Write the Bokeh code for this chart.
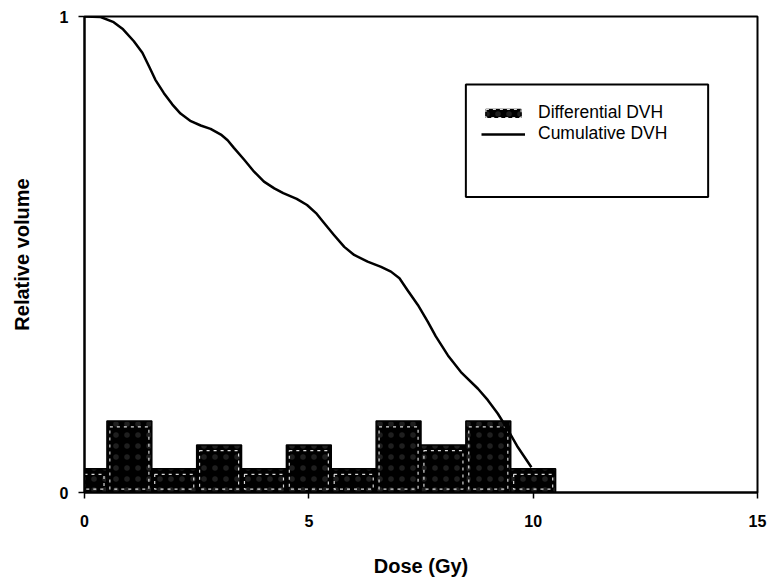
from bokeh.plotting import figure
from bokeh.models import Range1d, FixedTicker, Legend, LegendItem, BoxAnnotation
from bokeh.embed import file_html
from bokeh.resources import INLINE

# Differential DVH: relative volume per 1 Gy dose bin (bin centres in Gy)
bin_dose = [0, 1, 2, 3, 4, 5, 6, 7, 8, 9, 10]
diff_volume = [0.05, 0.15, 0.05, 0.10, 0.05, 0.10, 0.05, 0.15, 0.10, 0.15, 0.05]

# Cumulative DVH (smoothed curve)
cum_dose = [0.00, 0.36, 0.65, 0.86, 1.10, 1.29, 1.44, 1.58, 1.77, 1.96, 2.14,
            2.37, 2.59, 2.81, 3.04, 3.19, 3.33, 3.56, 3.78, 4.00, 4.23, 4.43,
            4.73, 4.96, 5.16, 5.34, 5.56, 5.79, 6.01, 6.31, 6.61, 6.83, 7.02,
            7.20, 7.43, 7.65, 7.83, 8.10, 8.39, 8.77, 8.99, 9.21, 9.44, 9.66,
            9.96]
cum_volume = [1.000, 0.999, 0.988, 0.973, 0.948, 0.924, 0.895, 0.867, 0.839,
              0.815, 0.796, 0.780, 0.771, 0.764, 0.752, 0.740, 0.724, 0.699,
              0.674, 0.653, 0.639, 0.629, 0.617, 0.604, 0.587, 0.566, 0.541,
              0.516, 0.499, 0.485, 0.474, 0.464, 0.450, 0.425, 0.394, 0.359,
              0.328, 0.288, 0.253, 0.218, 0.194, 0.166, 0.131, 0.095, 0.053]

x_ticks = [0, 5, 10, 15]
y_ticks = [0, 1]

FONT = "Liberation Sans"

p = figure(width=768, height=582, output_backend="svg", toolbar_location=None,
           x_range=Range1d(0, 15), y_range=Range1d(0, 1),
           min_border_left=84, min_border_right=11,
           min_border_top=16, min_border_bottom=90)

p.background_fill_color = "white"
p.border_fill_color = "white"
p.outline_line_color = "black"
p.outline_line_width = 2
p.xgrid.visible = False
p.ygrid.visible = False

# Histogram bars: black fill with faint speckle and a dashed white inner border
bars = p.vbar(x=bin_dose, top=diff_volume, width=1.0,
              fill_color="black", line_color="black", line_width=1.5,
              hatch_pattern="dot", hatch_color="white", hatch_alpha=0.12,
              hatch_scale=11, hatch_weight=1)
inset_top = [v - 0.012 for v in diff_volume]
inset = p.vbar(x=bin_dose, top=inset_top, bottom=0.007, width=0.87,
               fill_alpha=0, line_color="white", line_alpha=0.85,
               line_width=1.2, line_dash="3 4")

curve = p.line(cum_dose, cum_volume, line_color="black", line_width=2.5,
               line_join="round")

# Axes
for ax in (p.xaxis[0], p.yaxis[0]):
    ax.axis_line_width = 2
    ax.major_tick_in = 0
    ax.major_tick_out = 6
    ax.major_tick_line_width = 1.5
    ax.minor_tick_line_color = None
    ax.major_label_text_font = FONT
    ax.major_label_text_font_size = "16px"
    ax.major_label_text_font_style = "bold"
    ax.major_label_text_color = "black"
    ax.axis_label_text_font = FONT
    ax.axis_label_text_font_size = "20px"
    ax.axis_label_text_font_style = "bold"
    ax.axis_label_text_color = "black"

p.xaxis[0].ticker = FixedTicker(ticks=x_ticks)
p.yaxis[0].ticker = FixedTicker(ticks=y_ticks)
p.xaxis[0].axis_label = "Dose (Gy)"
p.yaxis[0].axis_label = "Relative volume"
p.xaxis[0].major_label_standoff = 16
p.xaxis[0].axis_label_standoff = 25
p.yaxis[0].major_label_standoff = 10
p.yaxis[0].axis_label_standoff = 24

# Legend frame and entries
legend_box = BoxAnnotation(left=8.5, right=13.9, top=0.857, bottom=0.621,
                           fill_alpha=0, line_color="black", line_alpha=1,
                           line_width=2)
p.add_layout(legend_box)

legend = Legend(items=[LegendItem(label="Differential DVH", renderers=[bars, inset]),
                       LegendItem(label="Cumulative DVH", renderers=[curve])],
                location=(397, 348), border_line_alpha=0,
                background_fill_alpha=0, padding=0, spacing=0, margin=0,
                glyph_width=44, glyph_height=10, label_height=21,
                label_standoff=13, label_text_font=FONT,
                label_text_font_size="17.5px", label_text_color="black")
p.add_layout(legend)

open("out.html", "w").write(file_html(p, INLINE))
